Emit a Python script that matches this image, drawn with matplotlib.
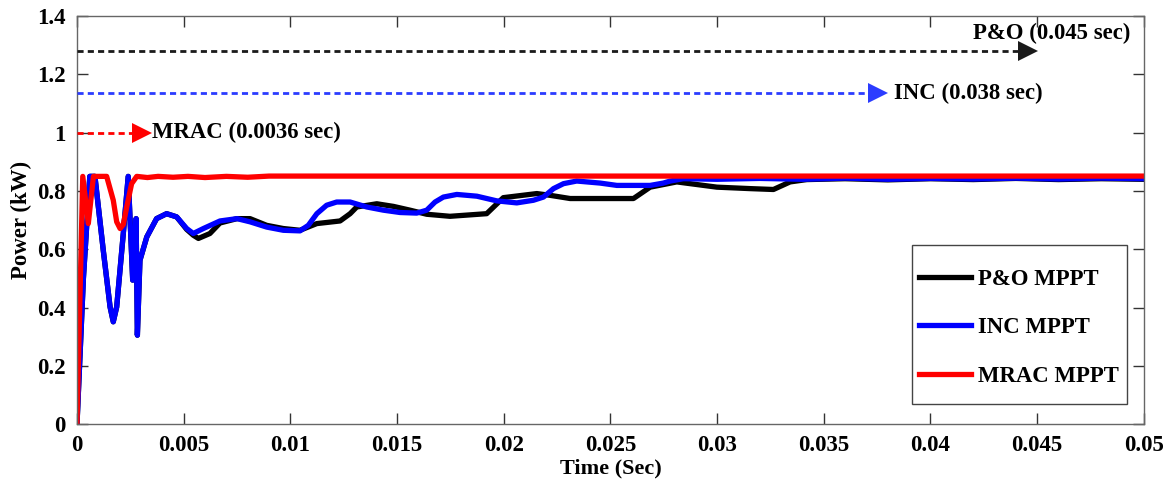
import matplotlib
matplotlib.use("Agg")
import matplotlib.pyplot as plt
from matplotlib.patches import Rectangle

# ---------------- data ----------------
t_inc = [0, 0.0003, 0.0006, 0.00084, 0.00123, 0.00155, 0.0017, 0.00186, 0.00217, 0.0024,
         0.00261, 0.00277, 0.00283, 0.00295, 0.00327, 0.00373, 0.0042, 0.00467, 0.00514, 0.00545,
         0.00592, 0.0067, 0.0075, 0.00811, 0.00889, 0.00967, 0.01045, 0.01084, 0.01124, 0.0117,
         0.01217, 0.0128, 0.01358, 0.01436, 0.01514, 0.01592, 0.01639, 0.01678, 0.01717, 0.0178,
         0.01874, 0.01967, 0.02061, 0.02139, 0.02186, 0.02233, 0.0228, 0.02342, 0.02452, 0.0253,
         0.02686, 0.02748, 0.0278, 0.02842, 0.0300, 0.0320, 0.0340, 0.0360, 0.0380, 0.0400,
         0.0420, 0.0440, 0.0460, 0.0480, 0.0500]
p_inc = [0, 0.50, 0.85, 0.85, 0.597, 0.402, 0.351, 0.402, 0.654, 0.85,
         0.494, 0.705, 0.305, 0.562, 0.642, 0.705, 0.722, 0.711, 0.671, 0.654,
         0.671, 0.697, 0.705, 0.694, 0.676, 0.665, 0.663, 0.682, 0.722, 0.751,
         0.762, 0.762, 0.745, 0.734, 0.726, 0.724, 0.734, 0.762, 0.779, 0.788,
         0.782, 0.766, 0.759, 0.768, 0.779, 0.808, 0.825, 0.834, 0.827, 0.819,
         0.819, 0.827, 0.834, 0.842, 0.840, 0.843, 0.840, 0.844, 0.840, 0.843,
         0.841, 0.844, 0.841, 0.844, 0.842]

t_po = [0, 0.0003, 0.0006, 0.00084, 0.00123, 0.00155, 0.0017, 0.00186, 0.00217, 0.0024,
        0.00261, 0.00277, 0.00283, 0.00295, 0.00327, 0.00373, 0.0042, 0.00467, 0.00514, 0.00545,
        0.00569, 0.00623, 0.0067, 0.0075, 0.00811, 0.00889, 0.00967, 0.01045, 0.01124, 0.01233,
        0.0128, 0.01311, 0.01405, 0.01483, 0.01561, 0.01639, 0.01748, 0.0192, 0.01998, 0.02155,
        0.02217, 0.02311, 0.02608, 0.02686, 0.02811, 0.02999, 0.03155, 0.03264, 0.03342, 0.0342,
        0.0360, 0.0380, 0.0400, 0.0420, 0.0440, 0.0460, 0.0480, 0.0500]
p_po = [0, 0.50, 0.85, 0.85, 0.597, 0.402, 0.351, 0.402, 0.654, 0.85,
        0.494, 0.705, 0.305, 0.562, 0.642, 0.705, 0.722, 0.711, 0.668, 0.648,
        0.637, 0.654, 0.690, 0.705, 0.705, 0.682, 0.671, 0.665, 0.688, 0.697,
        0.722, 0.745, 0.756, 0.747, 0.734, 0.720, 0.713, 0.722, 0.777, 0.791,
        0.785, 0.774, 0.774, 0.813, 0.831, 0.813, 0.808, 0.805, 0.831, 0.839,
        0.842, 0.838, 0.842, 0.839, 0.843, 0.839, 0.842, 0.840]

t_mrac = [0, 0.00027, 0.00053, 0.00077, 0.00139, 0.0017, 0.00186, 0.00202, 0.00217, 0.00233,
          0.00256, 0.0028, 0.0033, 0.0038, 0.0045, 0.0052, 0.0060, 0.0070, 0.0080, 0.0090,
          0.0500]
p_mrac = [0, 0.85, 0.688, 0.85, 0.85, 0.768, 0.694, 0.671, 0.685, 0.745,
          0.825, 0.85, 0.846, 0.850, 0.847, 0.850, 0.846, 0.850, 0.847, 0.851,
          0.851]

series_labels = ["P&O MPPT", "INC MPPT", "MRAC MPPT"]
series_colors = ["#000000", "#0000ff", "#ff0000"]

arrow_labels = ["P&O (0.045 sec)", "INC (0.038 sec)", "MRAC (0.0036 sec)"]
arrow_levels = [1.28, 1.135, 1.0]
arrow_ends = [0.045, 0.038, 0.0035]
arrow_colors = ["#1a1a1a", "#2b3cff", "#ff0000"]

x_ticks = [0, 0.005, 0.01, 0.015, 0.02, 0.025, 0.03, 0.035, 0.04, 0.045, 0.05]
x_tick_labels = ["0", "0.005", "0.01", "0.015", "0.02", "0.025", "0.03", "0.035", "0.04", "0.045", "0.05"]
y_ticks = [0, 0.2, 0.4, 0.6, 0.8, 1.0, 1.2, 1.4]
y_tick_labels = ["0", "0.2", "0.4", "0.6", "0.8", "1", "1.2", "1.4"]

# ---------------- plot ----------------
plt.rcParams['font.family'] = ['Liberation Serif', 'DejaVu Serif']
plt.rcParams['font.weight'] = 'bold'

fig = plt.figure(figsize=(11.72, 4.88), dpi=100)
ax = fig.add_axes([0.0657, 0.131, 0.9103, 0.836])

lw = 3.8
ax.plot(t_po, p_po, color=series_colors[0], lw=lw, label=series_labels[0], solid_joinstyle='round')
ax.plot(t_inc, p_inc, color=series_colors[1], lw=lw, label=series_labels[1], solid_joinstyle='round')
ax.plot(t_mrac, p_mrac, color=series_colors[2], lw=lw, label=series_labels[2], solid_joinstyle='round')

# dashed arrows
for lab, lev, end, col in zip(arrow_labels, arrow_levels, arrow_ends, arrow_colors):
    ax.plot([0, end - 0.0007], [lev, lev], color=col, lw=2.0, dashes=(2.2, 1.5), zorder=4)
    ax.plot([end - 0.00045], [lev], marker='>', color=col, markersize=15, zorder=5,
            markeredgewidth=0)

fs_txt = 16.4
ax.text(0.0420, 1.342, arrow_labels[0], fontsize=fs_txt, fontweight='bold', va='center', ha='left')
ax.text(0.0383, 1.135, arrow_labels[1], fontsize=fs_txt, fontweight='bold', va='center', ha='left')
ax.text(0.0035, 1.0, arrow_labels[2], fontsize=fs_txt, fontweight='bold', va='center', ha='left')

ax.set_xlim(0, 0.05)
ax.set_ylim(0, 1.4)
ax.set_xticks(x_ticks)
ax.set_xticklabels(x_tick_labels)
ax.set_yticks(y_ticks)
ax.set_yticklabels(y_tick_labels)
ax.tick_params(direction='in', top=True, right=True, length=8, width=1, labelsize=16.5,
               color='#333333')
ax.tick_params(axis='x', pad=8)
ax.tick_params(axis='y', pad=8)
for lab in ax.get_xticklabels() + ax.get_yticklabels():
    lab.set_fontweight('bold')
for s in ax.spines.values():
    s.set_color('#666666')
    s.set_linewidth(1.0)

ax.set_xlabel("Time (Sec)", fontsize=16, fontweight='bold', labelpad=2)
ax.set_ylabel("Power (kW)", fontsize=16.5, fontweight='bold', labelpad=4)

# legend without frame + manual frame box
leg = ax.legend(loc='upper left', bbox_to_anchor=(0.789, 0.381), fontsize=fs_txt,
                frameon=False, handlelength=2.3, labelspacing=1.22, borderpad=0,
                handletextpad=0.28, borderaxespad=0)
for txt in leg.get_texts():
    txt.set_fontweight('bold')
ax.add_patch(Rectangle((0.7826, 0.049), 0.2015, 0.3897, transform=ax.transAxes,
                       facecolor='white', edgecolor='#444444', linewidth=1.0, zorder=9))
leg.set_zorder(10)

fig.savefig("out.png", dpi=100)
